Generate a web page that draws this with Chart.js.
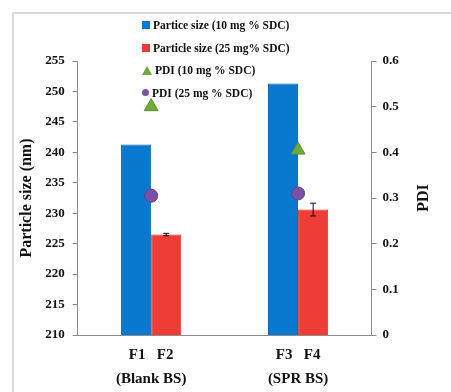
<!DOCTYPE html>
<html>
<head>
<meta charset="utf-8">
<script src="https://cdn.jsdelivr.net/npm/chart.js@4.4.0/dist/chart.umd.min.js"></script>
<style>
  html, body { margin: 0; padding: 0; background: #fff; }
  #wrap { position: relative; width: 451px; height: 392px; }
  #frame { position: absolute; left: 12px; top: 12px; right: 0; bottom: 0;
           border-top: 2px solid #d9d9d9; border-left: 2px solid #d9d9d9; }
  #legend { position: absolute; left: 142px; top: 14px;
            font: bold 11.5px "Liberation Serif", serif; color: #111; }
  .item { height: 22.5px; display: flex; align-items: center; white-space: nowrap; }
  .mk { display: inline-block; margin-right: 3px; }
</style>
</head>
<body>
<div id="wrap">
  <div id="frame"></div>
  <canvas id="myChart" width="451" height="392"></canvas>
  <div id="legend"></div>
</div>
<script>
// categories and values
var groups = [['F1   F2', '(Blank BS)'], ['F3   F4', '(SPR BS)']];
var size10 = [241.3, 251.3];
var size25 = [226.5, 230.6];
var size25Err = [0.2, 1.05];
var pdi10 = [0.50, 0.405];
var pdi25 = [0.305, 0.31];
var sizeTicks = [210, 215, 220, 225, 230, 235, 240, 245, 250, 255];

var font = 'Liberation Serif';

// error bars on the 25 mg% particle size bars
var errorBars = {
    id: 'errorBars',
    afterDatasetsDraw: function (chart) {
        var meta = chart.getDatasetMeta(1);
        var y = chart.scales.y;
        var c = chart.ctx;
        c.save();
        c.strokeStyle = '#111';
        c.lineWidth = 1;
        meta.data.forEach(function (bar, i) {
            var v = size25[i], e = size25Err[i];
            var top = y.getPixelForValue(v + e), bot = y.getPixelForValue(v - e);
            c.beginPath();
            c.moveTo(bar.x, top); c.lineTo(bar.x, bot);
            c.moveTo(bar.x - 3, top); c.lineTo(bar.x + 3, top);
            c.moveTo(bar.x - 3, bot); c.lineTo(bar.x + 3, bot);
            c.stroke();
        });
        c.restore();
    }
};

// right axis title reads bottom-to-top like the original
var rightTitle = {
    id: 'rightTitle',
    afterDraw: function (chart) {
        var s = chart.scales.y1;
        var a = chart.chartArea;
        var c = chart.ctx;
        c.save();
        c.translate(s.right - 14, (a.top + a.bottom) / 2);
        c.rotate(-Math.PI / 2);
        c.font = 'bold 16px "' + font + '"';
        c.fillStyle = '#111';
        c.textAlign = 'center';
        c.textBaseline = 'middle';
        c.fillText('PDI', 0, 0);
        c.restore();
    }
};

var ctx = document.getElementById('myChart').getContext('2d');

var myChart = new Chart(ctx, {
    data: {
        labels: groups,
        datasets: [{
            type: 'bar',
            label: 'Partice size (10 mg % SDC)',
            data: size10,
            backgroundColor: '#0879cf',
            borderColor: '#0a60a8',
            borderWidth: 1,
            yAxisID: 'y',
            order: 2
        },
        {
            type: 'bar',
            label: 'Particle size (25 mg% SDC)',
            data: size25,
            backgroundColor: '#f03c37',
            borderColor: '#c92c28',
            borderWidth: 1,
            yAxisID: 'y',
            order: 2
        },
        {
            type: 'line',
            label: 'PDI (10 mg % SDC)',
            data: pdi10,
            showLine: false,
            pointStyle: 'triangle',
            pointRadius: 8,
            backgroundColor: '#6faa3a',
            borderColor: '#5b9030',
            borderWidth: 1,
            yAxisID: 'y1',
            order: 1
        },
        {
            type: 'line',
            label: 'PDI (25 mg % SDC)',
            data: pdi25,
            showLine: false,
            pointStyle: 'circle',
            pointRadius: 6.5,
            backgroundColor: '#7d4ea6',
            borderColor: '#6a3e90',
            borderWidth: 1,
            yAxisID: 'y1',
            order: 1
        }]
    },
    options: {
        responsive: false,
        animation: false,
        layout: { padding: { top: 61, left: 16, right: 13, bottom: 1 } },
        datasets: {
            bar: { categoryPercentage: 0.41, barPercentage: 1.0 }
        },
        plugins: {
            legend: { display: false },
            tooltip: { enabled: false }
        },
        scales: {
            x: {
                offset: true,
                grid: { display: false },
                border: { display: true, color: '#8c8c8c', width: 1 },
                ticks: {
                    color: '#111',
                    padding: 0,
                    font: { family: font, size: 15, weight: 'bold', lineHeight: 1.6 }
                }
            },
            y: {
                position: 'left',
                min: 210,
                max: 255,
                afterBuildTicks: function (axis) {
                    axis.ticks = sizeTicks.map(function (v) { return { value: v }; });
                },
                grid: { drawOnChartArea: false, drawTicks: true, tickLength: 5, color: '#8c8c8c' },
                border: { display: true, color: '#8c8c8c', width: 1 },
                ticks: {
                    color: '#111',
                    padding: 8,
                    font: { family: font, size: 13, weight: 'bold' }
                },
                title: {
                    display: true,
                    text: 'Particle size (nm)',
                    color: '#111',
                    padding: { top: 1, bottom: 1 },
                    font: { family: font, size: 16, weight: 'bold' }
                }
            },
            y1: {
                position: 'right',
                min: 0,
                max: 0.6,
                ticks: {
                    stepSize: 0.1,
                    color: '#111',
                    padding: 6,
                    font: { family: font, size: 13, weight: 'bold' }
                },
                grid: { drawOnChartArea: false, drawTicks: true, tickLength: 5, color: '#8c8c8c' },
                border: { display: true, color: '#8c8c8c', width: 1 },
                title: {
                    display: true,
                    text: 'PDI',
                    color: 'rgba(0,0,0,0)',
                    padding: { top: 10, bottom: 4 },
                    font: { family: font, size: 16, weight: 'bold' }
                }
            }
        }
    },
    plugins: [errorBars, rightTitle]
});

// vertical legend inside the top of the plot
var legend = document.getElementById('legend');
myChart.data.datasets.forEach(function (ds) {
    var row = document.createElement('div');
    row.className = 'item';
    var mk = document.createElement('span');
    mk.className = 'mk';
    if (ds.type === 'bar') {
        mk.style.width = '8px';
        mk.style.height = '8px';
        mk.style.background = ds.backgroundColor;
    } else if (ds.pointStyle === 'triangle') {
        mk.style.width = '0';
        mk.style.height = '0';
        mk.style.borderLeft = '5px solid transparent';
        mk.style.borderRight = '5px solid transparent';
        mk.style.borderBottom = '9px solid ' + ds.backgroundColor;
    } else {
        mk.style.width = '7px';
        mk.style.height = '7px';
        mk.style.borderRadius = '50%';
        mk.style.background = ds.backgroundColor;
    }
    row.appendChild(mk);
    row.appendChild(document.createTextNode(ds.label));
    legend.appendChild(row);
});
</script>
</body>
</html>
